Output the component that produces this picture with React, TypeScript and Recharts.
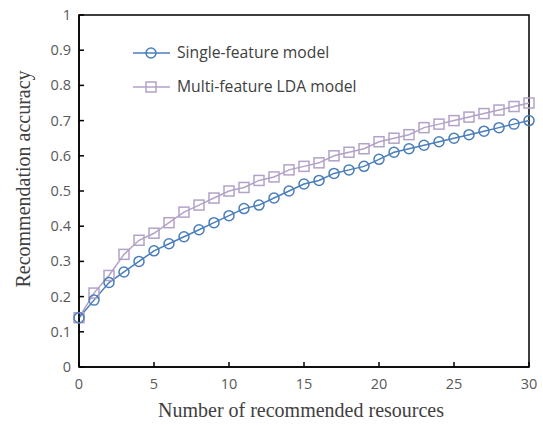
import { LineChart, Line, XAxis, YAxis, ReferenceArea } from 'recharts';

const resources = [0, 1, 2, 3, 4, 5, 6, 7, 8, 9, 10, 11, 12, 13, 14, 15, 16, 17, 18, 19, 20, 21, 22, 23, 24, 25, 26, 27, 28, 29, 30];
const singleFeature = [0.14, 0.19, 0.24, 0.27, 0.30, 0.33, 0.35, 0.37, 0.39, 0.41, 0.43, 0.45, 0.46, 0.48, 0.50, 0.52, 0.53, 0.55, 0.56, 0.57, 0.59, 0.61, 0.62, 0.63, 0.64, 0.65, 0.66, 0.67, 0.68, 0.69, 0.70];
const multiFeature = [0.14, 0.21, 0.26, 0.32, 0.36, 0.38, 0.41, 0.44, 0.46, 0.48, 0.50, 0.51, 0.53, 0.54, 0.56, 0.57, 0.58, 0.60, 0.61, 0.62, 0.64, 0.65, 0.66, 0.68, 0.69, 0.70, 0.71, 0.72, 0.73, 0.74, 0.75];
const xTicks = [0, 5, 10, 15, 20, 25, 30];
const yTicks = [0, 0.1, 0.2, 0.3, 0.4, 0.5, 0.6, 0.7, 0.8, 0.9, 1];

const data = resources.map((n, i) => ({ n, single: singleFeature[i], multi: multiFeature[i] }));

const BLUE = '#4a7ebb';
const PURPLE = '#b3a2c7';
const TICK_FONT = "'Open Sans', 'Liberation Sans', sans-serif";
const TITLE_FONT = "'Liberation Serif', 'DejaVu Serif', serif";

const YTick = (props: any) => {
  const { x, y, payload } = props;
  return (
    <g>
      <line x1={x + 8} x2={x + 13} y1={y} y2={y} stroke="#000" strokeWidth={1.5} />
      <text x={x} y={y} dy={5} textAnchor="end" fill="#595959" fontSize={14.5} fontFamily={TICK_FONT}>
        {payload.value === 0 || payload.value === 1 ? String(payload.value) : payload.value.toFixed(1)}
      </text>
    </g>
  );
};

const XTick = (props: any) => {
  const { x, y, payload } = props;
  return (
    <g>
      <line x1={x} x2={x} y1={y - 8} y2={y - 13} stroke="#000" strokeWidth={1.5} />
      <text x={x} y={y} dy={14} textAnchor="middle" fill="#595959" fontSize={14.5} fontFamily={TICK_FONT}>
        {payload.value}
      </text>
    </g>
  );
};

const SquareDot = (props: any) => {
  const { cx, cy, index } = props;
  return <rect key={`sq-${index}`} x={cx - 5} y={cy - 5} width={10} height={10} fill="none" stroke={PURPLE} strokeWidth={1.5} />;
};

const CircleDot = (props: any) => {
  const { cx, cy, index } = props;
  return <circle key={`ci-${index}`} cx={cx} cy={cy} r={5} fill="none" stroke={BLUE} strokeWidth={1.5} />;
};

export default function App() {
  return (
    <div style={{ position: 'absolute', left: 0, top: 0, width: 543, height: 425, background: '#fff' }}>
      <LineChart width={543} height={425} data={data} margin={{ top: 15, right: 14, left: 35, bottom: 28 }}>
        <XAxis
          dataKey="n"
          type="number"
          domain={[0, 30]}
          ticks={xTicks}
          tickSize={0}
          tickMargin={8}
          tick={<XTick />}
          tickLine={false}
          axisLine={{ stroke: '#000', strokeWidth: 1.5 }}
          height={30}
        />
        <YAxis
          type="number"
          domain={[0, 1]}
          ticks={yTicks}
          tickSize={0}
          tickMargin={8}
          tick={<YTick />}
          tickLine={false}
          axisLine={{ stroke: '#000', strokeWidth: 1.5 }}
          width={44}
        />
        <ReferenceArea x1={0} x2={30} y1={0} y2={1} fill="none" stroke="#000" strokeWidth={1.5} ifOverflow="visible" />
        <Line type="linear" dataKey="multi" stroke={PURPLE} strokeWidth={1.5} dot={<SquareDot />} isAnimationActive={false} />
        <Line type="linear" dataKey="single" stroke={BLUE} strokeWidth={1.5} dot={<CircleDot />} isAnimationActive={false} />
      </LineChart>

      {/* legend and axis titles */}
      <svg width={543} height={425} style={{ position: 'absolute', left: 0, top: 0, pointerEvents: 'none' }}>
        <line x1={133} x2={170} y1={53} y2={53} stroke={BLUE} strokeWidth={1.5} />
        <circle cx={151} cy={53} r={5} fill="none" stroke={BLUE} strokeWidth={1.5} />
        <text x={177} y={58} fill="#404040" fontSize={15.7} fontFamily={TICK_FONT}>Single-feature model</text>
        <line x1={133} x2={170} y1={87} y2={87} stroke={PURPLE} strokeWidth={1.5} />
        <rect x={146} y={82} width={10} height={10} fill="none" stroke={PURPLE} strokeWidth={1.5} />
        <text x={177} y={92} fill="#404040" fontSize={15.7} fontFamily={TICK_FONT}>Multi-feature LDA model</text>
        <text x={301} y={417} textAnchor="middle" fill="#404040" fontSize={20} fontFamily={TITLE_FONT}>Number of recommended resources</text>
        <text x={0} y={0} transform="translate(30,179) rotate(-90)" textAnchor="middle" fill="#404040" fontSize={20} fontFamily={TITLE_FONT}>Recommendation accuracy</text>
      </svg>
    </div>
  );
}
